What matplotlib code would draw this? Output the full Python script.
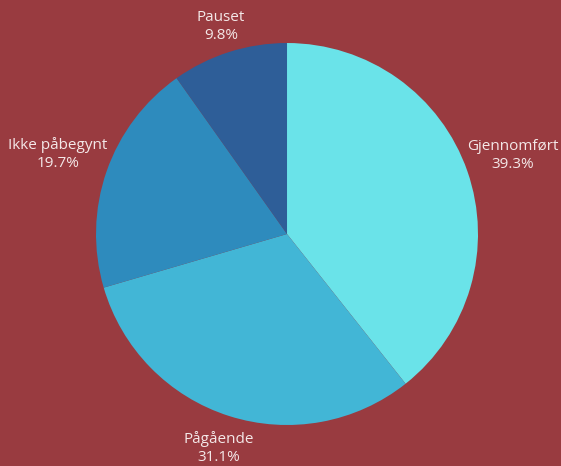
import numpy as np
import matplotlib
matplotlib.use("Agg")
import matplotlib.pyplot as plt

# Status fordeling
categories = ["Gjennomført", "Pågående", "Ikke påbegynt", "Pauset"]
values = [39.3, 31.1, 19.7, 9.8]
colors = ["#6ae3e9", "#42b6d6", "#2e8bbd", "#2e5e98"]

bg = "#993b40"
fig = plt.figure(figsize=(5.61, 4.66), dpi=100, facecolor=bg)
ax = fig.add_axes([0.1711, 0.088, 0.681, 0.8197])
ax.set_facecolor(bg)

wedges, _ = ax.pie(values, colors=colors, startangle=90, counterclock=False,
                   radius=1.0, wedgeprops=dict(linewidth=0))
ax.set_xlim(-1, 1)
ax.set_ylim(-1, 1)
ax.set_aspect("equal")
ax.axis("off")

# labels centred outside each slice
label_dist = [1.25, 1.175, 1.27, 1.14]
for w, name, v, d in zip(wedges, categories, values, label_dist):
    ang = np.deg2rad((w.theta1 + w.theta2) / 2)
    ax.text(d * np.cos(ang), d * np.sin(ang), f"{name}\n{v}%",
            ha="center", va="center", color="#f4e8e8",
            family="Open Sans", fontsize=11, linespacing=1.25,
            clip_on=False)

fig.savefig("out.png", dpi=100, facecolor=bg)
